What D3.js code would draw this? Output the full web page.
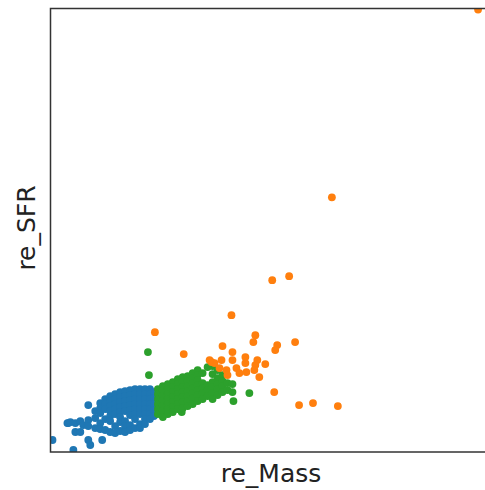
<!DOCTYPE html>
<html>
<head>
<meta charset="utf-8">
<script src="https://cdn.jsdelivr.net/npm/d3@7"></script>
<style>
  body { margin: 0; background: #fff; }
  svg { display: block; }
</style>
</head>
<body>
<div id="chart"></div>
<script>
// cluster points as [re_Mass, re_SFR] (arbitrary rescaled units)
var blue = [
  [0.2,1.2],[2.3,0.2],[1.7,2.9],[1.8,2.9],[2.0,3.0],[2.5,2.9],[2.5,2.0],[3.0,3.1],[3.0,2.0],
  [3.3,2.7],[3.8,4.7],[3.8,3.2],[3.8,2.6],[3.8,1.2],[4.0,0.7],[5.2,1.2],
  [4.5,4.1],[4.5,3.4],[4.5,2.4],
  [5.0,4.9],[5.0,4.4],[5.0,3.9],[5.0,2.9],[5.0,2.3],
  [5.5,5.3],[5.5,4.8],[5.5,4.3],[5.5,3.3],[5.5,2.2],
  [6.0,5.6],[6.0,5.1],[6.0,4.6],[6.0,4.1],[6.0,3.6],[6.0,3.1],[6.0,2.0],
  [6.5,5.8],[6.5,5.3],[6.5,4.8],[6.5,4.3],[6.5,3.8],[6.5,2.6],[6.5,1.9],
  [7.0,6.0],[7.0,5.5],[7.0,5.0],[7.0,4.5],[7.0,4.0],[7.0,3.5],[7.0,3.0],[7.0,2.1],
  [7.5,6.1],[7.5,5.6],[7.5,5.1],[7.5,4.6],[7.5,4.1],[7.5,3.1],[7.5,2.6],[7.5,2.0],
  [8.0,6.2],[8.0,5.7],[8.0,5.2],[8.0,4.7],[8.0,4.2],[8.0,3.7],[8.0,2.7],[8.0,2.2],
  [8.5,6.3],[8.5,5.8],[8.5,5.3],[8.5,4.8],[8.5,4.3],[8.5,3.8],[8.5,3.3],[8.5,2.4],
  [9.0,6.3],[9.0,5.8],[9.0,5.3],[9.0,4.8],[9.0,4.3],[9.0,3.8],[9.0,2.8],[9.0,2.4],
  [9.5,6.3],[9.5,5.8],[9.5,5.3],[9.5,4.8],[9.5,4.3],[9.5,3.8],[9.5,3.3],[9.5,2.8],
  [10.0,6.3],[10.0,5.8],[10.0,5.3],[10.0,4.8],[10.0,4.3],[10.0,3.8],[10.0,3.3],
  [10.4,6.0],[10.4,5.4],[10.4,4.8],[10.4,4.2],[10.4,3.6]
];

var green = [
  [9.8,10.0],[9.9,7.7],[18.4,5.1],[20.0,5.9],[13.2,4.0],
  [10.8,6.3],[10.8,5.8],[10.8,5.3],[10.8,4.8],[10.8,4.3],[10.8,3.8],
  [11.3,6.6],[11.3,6.1],[11.3,5.6],[11.3,5.1],[11.3,4.6],[11.3,4.1],[11.3,3.5],
  [11.8,6.8],[11.8,6.3],[11.8,5.8],[11.8,5.3],[11.8,4.8],[11.8,4.3],[11.8,3.8],
  [12.3,7.0],[12.3,6.5],[12.3,6.0],[12.3,5.5],[12.3,5.0],[12.3,4.5],[12.3,4.0],
  [12.8,7.3],[12.8,6.8],[12.8,6.3],[12.8,5.8],[12.8,5.3],[12.8,4.8],[12.8,4.3],
  [13.3,7.5],[13.3,7.0],[13.3,6.5],[13.3,6.0],[13.3,5.5],[13.3,5.0],[13.3,4.4],
  [13.8,7.6],[13.8,7.1],[13.8,6.6],[13.8,6.1],[13.8,5.6],[13.8,5.1],[13.8,4.6],
  [14.3,7.9],[14.3,7.4],[14.3,6.9],[14.3,6.4],[14.3,5.9],[14.3,5.4],[14.3,4.8],
  [14.8,8.2],[14.8,7.7],[14.8,7.2],[14.8,6.7],[14.8,6.2],[14.8,5.7],[14.8,5.1],
  [15.3,7.9],[15.3,6.9],[15.3,6.4],[15.3,5.9],[15.3,5.3],
  [15.8,8.5],[15.8,6.7],[15.8,6.2],[15.8,5.6],
  [16.3,8.6],[16.3,7.8],[16.3,7.0],[16.3,6.5],[16.3,5.9],[16.3,5.3],
  [16.8,8.2],[16.8,7.4],[16.8,6.8],[16.8,6.3],[16.8,5.7],
  [17.3,7.7],[17.3,7.1],[17.3,6.6],[17.3,6.0],
  [17.8,6.9],[17.8,6.2],
  [18.3,6.8],[18.3,6.0]
];

var orange = [
  [43.0,44.3],[28.3,25.5],[22.3,17.2],[24.0,17.6],[18.2,13.7],[10.5,12.0],[13.4,9.8],
  [20.6,11.7],[20.4,11.0],[17.3,10.6],[22.8,10.7],[22.6,10.2],[24.6,11.0],
  [18.3,10.0],[18.3,9.2],[19.6,9.5],[19.6,8.9],[20.8,9.2],[20.6,8.7],[21.6,8.8],
  [16.2,9.0],[16.5,8.9],[17.2,9.2],[17.0,8.4],[17.7,8.2],[17.8,7.7],
  [18.7,8.4],[19.0,7.9],[19.7,8.0],[20.5,8.2],[21.0,7.5],
  [22.5,6.0],[25.0,4.7],[26.4,4.9],[28.9,4.6],[16.0,9.2]
];

var xLabel = "re_Mass";
var yLabel = "re_SFR";

var width = 485, height = 490;
var margin = {left: 50.5, top: 8.5, right: -3, bottom: 38};

var svg = d3.select("#chart").append("svg")
  .attr("width", width)
  .attr("height", height);

var x = d3.scaleLinear()
  .domain([0, 44])
  .range([margin.left, width - margin.right]);
var y = d3.scaleLinear()
  .domain([0, 44.4])
  .range([height - margin.bottom, margin.top]);

svg.append("clipPath").attr("id", "plot-clip")
  .append("rect")
  .attr("x", margin.left)
  .attr("y", margin.top)
  .attr("width", width - margin.right - margin.left)
  .attr("height", height - margin.bottom - margin.top);

var dots = svg.append("g").attr("clip-path", "url(#plot-clip)");

function drawSet(data, color) {
  dots.append("g").selectAll("circle")
    .data(data)
    .enter()
    .append("circle")
    .attr("cx", function(d) { return x(d[0]); })
    .attr("cy", function(d) { return y(d[1]); })
    .attr("r", 3.9)
    .attr("fill", color);
}
drawSet(blue, "#1f77b4");
drawSet(green, "#2ca02c");
drawSet(orange, "#ff7f0e");

// frame (right edge falls outside the picture)
svg.append("rect")
  .attr("x", margin.left)
  .attr("y", margin.top)
  .attr("width", width - margin.right - margin.left)
  .attr("height", height - margin.bottom - margin.top)
  .attr("fill", "none")
  .attr("stroke", "#333")
  .attr("stroke-width", 1.5);

svg.append("text")
  .attr("x", 271)
  .attr("y", 482)
  .attr("text-anchor", "middle")
  .style("font-family", "DejaVu Sans, sans-serif")
  .style("font-size", "25px")
  .attr("fill", "#222")
  .text(xLabel);

svg.append("text")
  .attr("transform", "translate(35,228) rotate(-90)")
  .attr("text-anchor", "middle")
  .style("font-family", "DejaVu Sans, sans-serif")
  .style("font-size", "25px")
  .attr("fill", "#222")
  .text(yLabel);
</script>
</body>
</html>
